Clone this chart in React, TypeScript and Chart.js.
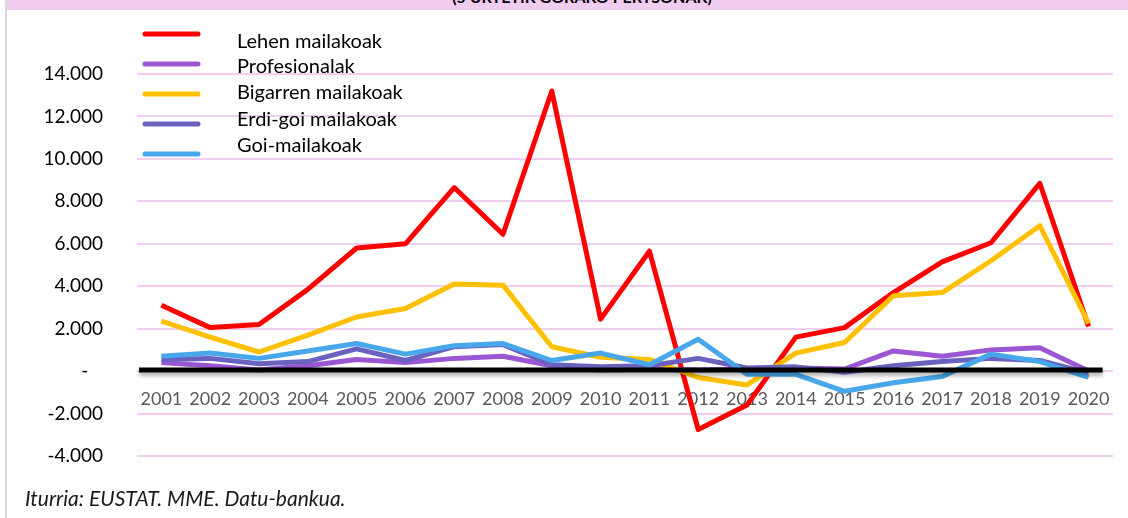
import React, { useEffect, useRef } from "react";
import { Chart, registerables } from "chart.js";

Chart.register(...registerables);

const years = ["2001","2002","2003","2004","2005","2006","2007","2008","2009","2010","2011","2012","2013","2014","2015","2016","2017","2018","2019","2020"];
const seriesNames = ["Lehen mailakoak", "Profesionalak", "Bigarren mailakoak", "Erdi-goi mailakoak", "Goi-mailakoak"];
const seriesColors = ["#FF0000", "#9B57D3", "#FFC000", "#6B62BF", "#47A7EA"];
const lehen = [3100, 2050, 2200, 3850, 5800, 6000, 8650, 6450, 13200, 2450, 5650, -2750, -1600, 1600, 2050, 3700, 5150, 6050, 8850, 2100];
const profesionalak = [400, 250, 50, 250, 550, 400, 600, 700, 250, 50, 100, 50, 100, 150, 100, 950, 700, 1000, 1100, 0];
const bigarren = [2350, 1600, 900, 1700, 2550, 2950, 4100, 4050, 1150, 650, 550, -300, -650, 850, 1350, 3550, 3700, 5200, 6850, 2250];
const erdiGoi = [550, 600, 350, 450, 1050, 500, 1150, 1250, 300, 200, 250, 600, 150, 200, -50, 250, 450, 600, 500, -100];
const goi = [700, 850, 600, 950, 1300, 800, 1200, 1300, 500, 850, 300, 1500, -150, -150, -950, -550, -250, 800, 450, -300];
const seriesValues = [lehen, profesionalak, bigarren, erdiGoi, goi];
const yMin = -4000;
const yMax = 14000;
const yStep = 2000;
const titleText = "(5 URTETIK GORAKO PERTSONAK)";
const sourceText = "Iturria: EUSTAT. MME. Datu-bankua.";

const FONT = "Lato, 'Open Sans', sans-serif";

const fmt = (v: number) => {
  if (v === 0) return "-   ";
  const s = Math.abs(v).toString().replace(/\B(?=(\d{3})+(?!\d))/g, ".");
  return (v < 0 ? "-" : "") + s;
};

const zeroLinePlugin = {
  id: "zeroLine",
  afterDatasetsDraw(chart: any) {
    const { ctx, scales, chartArea } = chart;
    const y = scales.y.getPixelForValue(0) - 1;
    const x0 = chartArea.left + 2;
    const x1 = scales.x.getPixelForValue(years.length - 1) + 14;
    ctx.save();
    ctx.shadowColor = "rgba(0,0,0,0.35)";
    ctx.shadowBlur = 4;
    ctx.shadowOffsetY = 3;
    ctx.strokeStyle = "#000";
    ctx.lineWidth = 5;
    ctx.beginPath();
    ctx.moveTo(x0, y);
    ctx.lineTo(x1, y);
    ctx.stroke();
    ctx.restore();
  },
};

const legendPlugin = {
  id: "customLegend",
  afterDraw(chart: any) {
    const { ctx } = chart;
    const lineYs = [34, 64, 94, 124, 154];
    const textYs = [42, 67, 93, 120, 146];
    ctx.save();
    seriesNames.forEach((name, i) => {
      ctx.strokeStyle = seriesColors[i];
      ctx.lineWidth = 5;
      ctx.lineCap = "round";
      ctx.beginPath();
      ctx.moveTo(145, lineYs[i]);
      ctx.lineTo(198, lineYs[i]);
      ctx.stroke();
      ctx.fillStyle = "#000";
      ctx.font = `20px ${FONT}`;
      ctx.textBaseline = "middle";
      ctx.textAlign = "left";
      ctx.fillText(name, 237, textYs[i]);
    });
    ctx.restore();
  },
};

export default function App() {
  const ref = useRef<HTMLCanvasElement | null>(null);
  useEffect(() => {
    if (!ref.current) return;
    const n = seriesNames.length;
    const chart = new Chart(ref.current, {
      type: "line",
      data: {
        labels: years,
        datasets: seriesNames.map((name, i) => ({
          label: name,
          data: seriesValues[i],
          borderColor: seriesColors[i],
          backgroundColor: seriesColors[i],
          borderWidth: 5,
          pointRadius: 0,
          tension: 0,
          borderJoinStyle: "round" as const,
          order: n - i,
        })),
      },
      options: {
        animation: false,
        responsive: false,
        maintainAspectRatio: false,
        layout: { padding: { left: 0, right: 15, top: 74, bottom: 62 } },
        plugins: { legend: { display: false }, tooltip: { enabled: false } },
        scales: {
          x: {
            type: "category",
            offset: true,
            grid: { display: false, drawTicks: false, offset: true },
            border: { display: false },
            ticks: {
              color: "#595959",
              font: { family: FONT, size: 18 },
              mirror: true,
              padding: 46,
              maxRotation: 0,
              autoSkip: false,
            },
            afterFit: (s: any) => { s.height = 0; s.paddingLeft = 0; s.paddingRight = 0; },
          },
          y: {
            min: yMin,
            max: yMax,
            grid: { color: "#F0CFF0", lineWidth: 2, drawTicks: false },
            border: { display: false },
            ticks: {
              stepSize: yStep,
              color: "#000",
              font: { family: FONT, size: 19 },
              padding: 34,
              callback: (v: any) => fmt(Number(v)),
            },
            afterFit: (s: any) => { s.width = 137; s.paddingTop = 0; s.paddingBottom = 0; },
          },
        },
      },
      plugins: [zeroLinePlugin, legendPlugin],
    });
    return () => chart.destroy();
  }, []);

  return (
    <div style={{ position: "absolute", left: 0, top: 0, width: 1128, height: 518, background: "#fff", overflow: "hidden" }}>
      <div style={{ position: "absolute", left: 5, top: 0, width: 2, height: 518, background: "#D9D9D9" }} />
      <div style={{ position: "absolute", left: 7, top: 0, width: 1121, height: 10, background: "#F0CCEE", overflow: "hidden" }}>
        <div style={{ position: "absolute", left: 0, width: 1150, top: -11, textAlign: "center", fontFamily: FONT, fontWeight: 700, fontSize: 16, lineHeight: "16px", color: "#000" }}>{titleText}</div>
      </div>
      <canvas ref={ref} width={1128} height={518} style={{ position: "absolute", left: 0, top: 0, width: 1128, height: 518 }} />
      <div style={{ position: "absolute", left: 25, top: 486, fontFamily: FONT, fontStyle: "italic", fontSize: 21, lineHeight: "24px", color: "#1a1a1a" }}>{sourceText}</div>
    </div>
  );
}
